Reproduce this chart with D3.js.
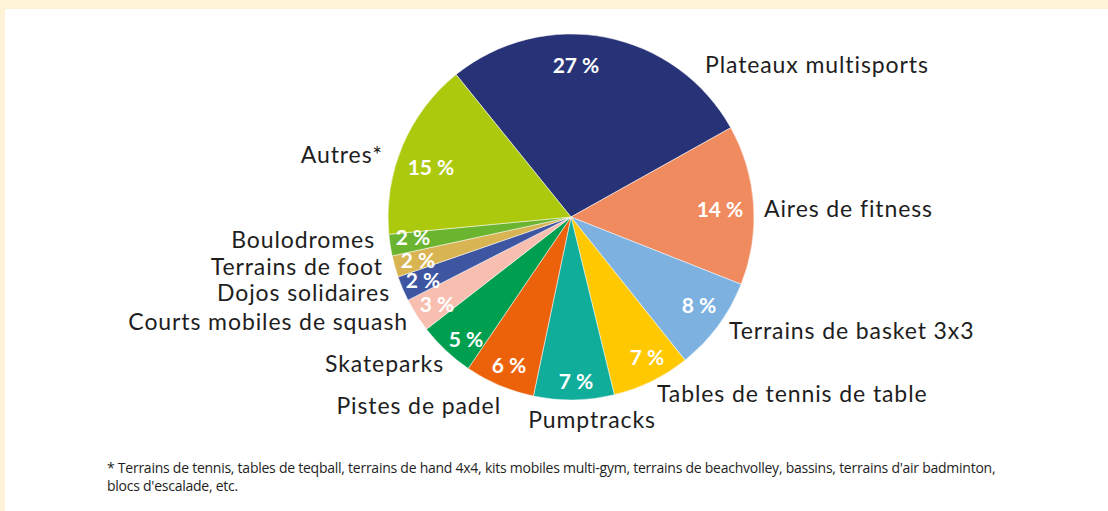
<!DOCTYPE html>
<html>
<head>
<meta charset="utf-8">
<script src="https://cdn.jsdelivr.net/npm/d3@7"></script>
<style>
  html, body { margin: 0; padding: 0; background: #fef3d6; }
  svg { display: block; }
</style>
</head>
<body>
<div id="chart"></div>
<script>
// Categories, in clockwise order from the top
const categories = [
  'Plateaux multisports', 'Aires de fitness', 'Terrains de basket 3x3',
  'Tables de tennis de table', 'Pumptracks', 'Pistes de padel', 'Skateparks',
  'Courts mobiles de squash', 'Dojos solidaires', 'Terrains de foot',
  'Boulodromes', 'Autres*'
];
const shares = [27.7, 14.1, 8.3, 6.9, 7.1, 6.2, 5.0, 3.0, 2.2, 1.9, 1.9, 15.7];
// the printed labels
const pctLabels = ['27 %', '14 %', '8 %', '7 %', '7 %', '6 %', '5 %', '3 %', '2 %', '2 %', '2 %', '15 %'];
const colors = [
  '#283377', '#f08b5f', '#7db1e0', '#ffc800', '#10ad9b', '#ec620b',
  '#009e4f', '#f8bfb1', '#3e55a1', '#d9b452', '#6ab42f', '#adc90e'
];
const footnote = [
  "* Terrains de tennis, tables de teqball, terrains de hand 4x4, kits mobiles multi-gym, terrains de beachvolley, bassins, terrains d'air badminton,",
  "blocs d'escalade, etc."
];

// label placement, offsets from the pie centre [dx, baseline dy, anchor]
const nameLayout = [
  [134, -144, 'start'], [193, 0, 'start'], [158, 122, 'start'],
  [86, 185, 'start'], [21, 211, 'middle'], [-70, 197, 'end'],
  [-127, 155, 'end'], [-163, 113, 'end'], [-181, 84, 'end'],
  [-188, 58, 'end'], [-196, 31, 'end'], [-188, -54, 'end']
];
const pctLayout = [
  [5, -144], [149, 0], [128, 96], [76, 148], [5, 172], [-62, 156],
  [-105, 130], [-134, 95], [-148, 71], [-153, 51], [-158, 28], [-140, -42]
];

const W = 1108, H = 511;
const cx = 571, cy = 217, radius = 183;
const startDeg = -38.9;

const svg = d3.select('#chart').append('svg')
  .attr('width', W)
  .attr('height', H);

// white panel over the cream frame
svg.append('rect')
  .attr('x', 5).attr('y', 9)
  .attr('width', W - 5).attr('height', H - 9)
  .attr('fill', '#ffffff');

const pie = d3.pie()
  .sort(null)
  .value(d => d)
  .startAngle(startDeg * Math.PI / 180)
  .endAngle(startDeg * Math.PI / 180 + 2 * Math.PI);

const arc = d3.arc().innerRadius(0).outerRadius(radius);

const g = svg.append('g').attr('transform', `translate(${cx},${cy})`);

const arcs = pie(shares);

g.selectAll('path.slice')
  .data(arcs)
  .join('path')
  .attr('class', 'slice')
  .attr('d', arc)
  .attr('fill', (d, i) => colors[i])
  .attr('stroke', '#ffffff')
  .attr('stroke-width', 0.5);

// percentage labels inside the slices
g.selectAll('text.pct')
  .data(arcs)
  .join('text')
  .attr('class', 'pct')
  .attr('x', (d, i) => pctLayout[i][0])
  .attr('y', (d, i) => pctLayout[i][1])
  .attr('text-anchor', 'middle')
  .attr('fill', '#ffffff')
  .attr('font-family', 'Lato, "Open Sans", sans-serif')
  .attr('font-weight', 'bold')
  .attr('font-size', '21px')
  .text((d, i) => pctLabels[i]);

// category names around the pie
g.selectAll('text.name')
  .data(arcs)
  .join('text')
  .attr('class', 'name')
  .attr('x', (d, i) => nameLayout[i][0])
  .attr('y', (d, i) => nameLayout[i][1])
  .attr('text-anchor', (d, i) => nameLayout[i][2])
  .attr('fill', '#1e1e1e')
  .attr('font-family', 'Lato, "Open Sans", sans-serif')
  .attr('font-size', '23px')
  .attr('letter-spacing', '0.9px')
  .text((d, i) => categories[i]);

// footnote
svg.append('g')
  .selectAll('text')
  .data(footnote)
  .join('text')
  .attr('x', 107)
  .attr('y', (d, i) => 473 + i * 18)
  .attr('fill', '#1e1e1e')
  .attr('font-family', '"Open Sans", sans-serif')
  .attr('font-size', '14px')
  .attr('letter-spacing', '-0.25px')
  .text(d => d);
</script>
</body>
</html>
